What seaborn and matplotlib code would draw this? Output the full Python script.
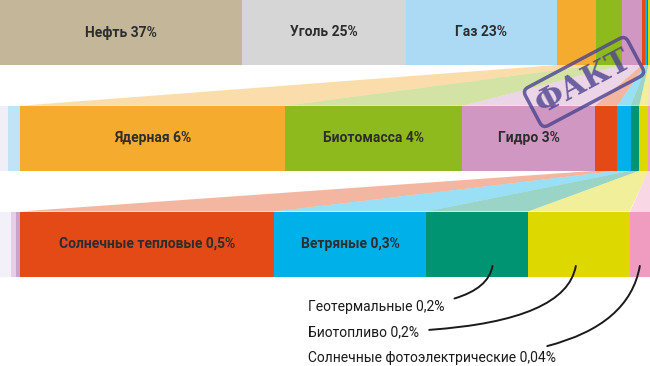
import numpy as np
import pandas as pd
import matplotlib
matplotlib.use("Agg")
import matplotlib.pyplot as plt
import seaborn as sns

# world primary energy mix, % (values as labelled on the chart)
sources = ["Нефть", "Уголь", "Газ", "Ядерная", "Биотомасса", "Гидро",
           "Солнечные тепловые", "Ветряные", "Геотермальные", "Биотопливо",
           "Солнечные фотоэлектрические"]
shares = [37, 25, 23, 6, 4, 3, 0.5, 0.3, 0.2, 0.2, 0.04]
share_text = ["37%", "25%", "23%", "6%", "4%", "3%", "0,5%", "0,3%", "0,2%", "0,2%", "0,04%"]
colors = ["#c4b698", "#d5d6d5", "#acdaf4", "#f5ab2e", "#8fba1e", "#cf97c1",
          "#e34a16", "#00b0e8", "#009473", "#dcd800", "#f09cc0"]

# each row zooms into the tail of the previous one
row_ids = ["all", "minor", "tiny"]
row_first = [0, 3, 6]
row_labelled = [[0, 1, 2], [3, 4, 5], [6, 7]]
callout_idx = [8, 9, 10]

# layout (pixel units)
W = 650
lead = [[], [(8, "#f0eff7"), (12, "#c0e3f6")], [(11, "#f2f0f8"), (5, "#e6cfe6"), (4, "#c9a3cc")]]
row_c0, row_step, bar_h = 32.5, 105.75, 65


def ky(px):
    return (px - row_c0) / row_step


bw = bar_h / row_step

sns.set_theme(style="white")
plt.rcParams["font.family"] = ["Roboto", "DejaVu Sans"]

fig = plt.figure(figsize=(6.5, 3.66), dpi=100)
ax = fig.add_axes([0, 0, 1, 1])

# segment boundaries for each row
segs = []
edges = {}
for r, rid in enumerate(row_ids):
    x = 0
    for w, c in lead[r]:
        x += w
        segs.append(dict(row=rid, end=x, color=c))
    vals = np.array(shares[row_first[r]:])
    scale = (W - x) / vals.sum()
    ends = x + np.cumsum(vals) * scale
    starts = np.concatenate([[x], ends[:-1]])
    for k, i in enumerate(range(row_first[r], len(shares))):
        edges[(r, i)] = (starts[k], ends[k])
        segs.append(dict(row=rid, end=ends[k], color=colors[i]))
segs = pd.DataFrame(segs)

# stacked bars: longest first, shorter ones on top
for _, s in segs.sort_values("end", ascending=False).iterrows():
    sns.barplot(x=[s["end"]], y=[s["row"]], order=row_ids, orient="h",
                color=s["color"], saturation=1, width=bw, errorbar=None,
                linewidth=0, ax=ax)

# faded fans between rows
for r in range(len(row_ids) - 1):
    y_top = r + bw / 2
    y_bot = r + 1 - bw / 2
    for i in range(row_first[r + 1], len(shares)):
        a0, a1 = edges[(r, i)]
        b0, b1 = edges[(r + 1, i)]
        ax.fill([a0, a1, b1, b0], [y_top, y_top, y_bot, y_bot],
                color=colors[i], alpha=0.4, lw=0, zorder=0)

# labels inside bars
for r, idx in enumerate(row_labelled):
    for i in idx:
        x0, x1 = edges[(r, i)]
        ax.text((x0 + x1) / 2, r, f"{sources[i]} {share_text[i]}",
                ha="center", va="center", fontsize=10, fontweight="bold",
                color="#2d2d2d", zorder=5)

# callouts for the smallest sources
call_y = [307, 332, 358]
call_frac = [0.65, 0.47, 0.5]
for i, yp, f in zip(callout_idx, call_y, call_frac):
    x0, x1 = edges[(2, i)]
    ax.annotate(f"{sources[i]} {share_text[i]}",
                xy=(x0 + f * (x1 - x0), ky(266)), xytext=(308, ky(yp)),
                ha="left", va="center", fontsize=10, color="#1a1a1a", zorder=6,
                arrowprops=dict(arrowstyle="-", color="#1a1a1a", lw=1.4,
                                shrinkA=5, shrinkB=0,
                                connectionstyle="angle3,angleA=0,angleB=80"))

# stamp
ax.text(584, ky(82), "ФАКТ", rotation=28, ha="center", va="center",
        fontsize=22, fontweight="bold", family="DejaVu Serif",
        color="#4b4290", alpha=0.8, zorder=7,
        bbox=dict(boxstyle="round,pad=0.2", fc="none", ec="#4b4290", lw=2.5, alpha=0.8))

ax.set_xlim(0, W)
ax.set_ylim(ky(366), ky(0))
ax.set_xlabel("")
ax.set_ylabel("")
ax.axis("off")

fig.savefig("out.png", dpi=100)
